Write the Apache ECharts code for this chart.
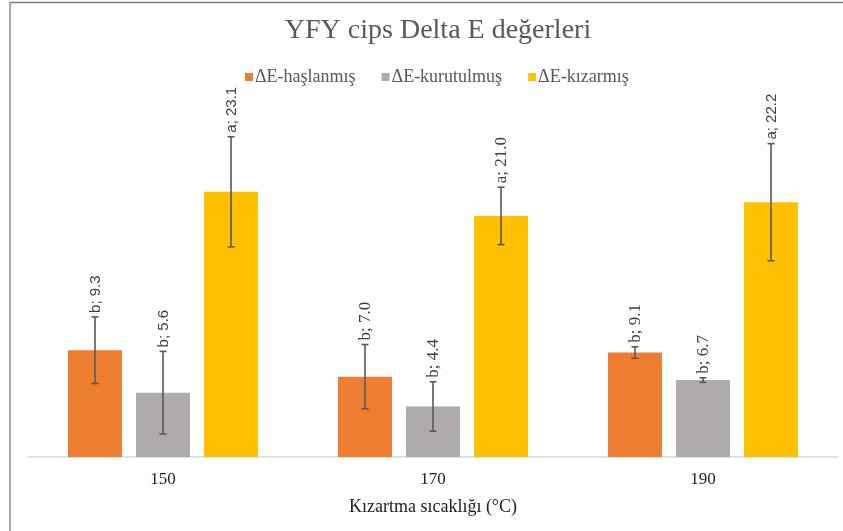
<!DOCTYPE html>
<html>
<head>
<meta charset="utf-8">
<script src="https://cdn.jsdelivr.net/npm/echarts@6/dist/echarts.min.js"></script>
<style>html,body{margin:0;padding:0;background:#fff;}#c{width:843px;height:531px;}</style>
</head>
<body>
<div id="c"></div>
<script>
const categories = ['150', '170', '190'];
const seriesNames = ['ΔE-haşlanmış', 'ΔE-kurutulmuş', 'ΔE-kızarmış'];
const haslanmis = [9.3, 7.0, 9.1];
const haslanmisErr = [2.9, 2.8, 0.5];
const haslanmisLetters = ['b', 'b', 'b'];
const kurutulmus = [5.6, 4.4, 6.7];
const kurutulmusErr = [3.6, 2.15, 0.2];
const kurutulmusLetters = ['b', 'b', 'b'];
const kizarmis = [23.1, 21.0, 22.2];
const kizarmisErr = [4.8, 2.5, 5.1];
const kizarmisLetters = ['a', 'a', 'a'];
const chartTitle = 'YFY cips Delta E değerleri';
const xAxisTitle = 'Kızartma sıcaklığı (°C)';

const values = [haslanmis, kurutulmus, kizarmis];
const errs = [haslanmisErr, kurutulmusErr, kizarmisErr];
const letters = [haslanmisLetters, kurutulmusLetters, kizarmisLetters];
const colors = ['#ED7D31', '#AFABAB', '#FFC000'];
// label font style per [series][category] (styling only)
const sansLabel = [[true, false, false], [true, false, false], [true, false, true]];

const SERIF = '"Liberation Serif", "Times New Roman", serif';
const SANS = '"Liberation Sans", Arial, sans-serif';

const chart = echarts.init(document.getElementById('c'), null, {renderer: 'canvas'});

const barSeries = seriesNames.map((n, i) => ({
  name: n,
  type: 'bar',
  data: values[i],
  barWidth: 54,
  barGap: '26%',
  itemStyle: {color: colors[i]},
  z: 2
}));

const errSeries = seriesNames.map((n, i) => ({
  type: 'custom',
  z: 5,
  silent: true,
  data: values[i].map((v, k) => [k, v, errs[i][k]]),
  encode: {x: 0, y: 1},
  renderItem: function (params, api) {
    const cat = api.value(0), val = api.value(1), err = api.value(2);
    const band = api.size([1, 0])[0];
    const cx = api.coord([cat, 0])[0] + (i - 1) * band * 0.2519;
    const yTop = api.coord([cat, val + err])[1];
    const yBot = api.coord([cat, val - err])[1];
    const cap = 3.5;
    const ls = {stroke: '#595959', lineWidth: 1.6};
    const sans = sansLabel[i][params.dataIndex];
    return {
      type: 'group',
      children: [
        {type: 'line', shape: {x1: cx, y1: yTop, x2: cx, y2: yBot}, style: ls},
        {type: 'line', shape: {x1: cx - cap, y1: yTop, x2: cx + cap, y2: yTop}, style: ls},
        {type: 'line', shape: {x1: cx - cap, y1: yBot, x2: cx + cap, y2: yBot}, style: ls},
        {
          type: 'text',
          x: cx + 1,
          y: yTop - 4,
          rotation: Math.PI / 2,
          style: {
            text: letters[i][params.dataIndex] + '; ' + val.toFixed(1),
            fill: '#404040',
            font: sans ? ('15px ' + SANS) : ('17px ' + SERIF),
            textAlign: 'left',
            textVerticalAlign: 'middle'
          }
        }
      ]
    };
  }
}));

chart.setOption({
  animation: false,
  backgroundColor: '#fff',
  title: {
    text: chartTitle,
    left: 433,
    textAlign: 'center',
    top: 12,
    textStyle: {fontFamily: SERIF, fontSize: 28, fontWeight: 'normal', color: '#595959'}
  },
  legend: {
    data: seriesNames,
    left: 240,
    top: 63,
    icon: 'rect',
    itemWidth: 8,
    itemHeight: 8,
    itemGap: 26,
    textStyle: {fontFamily: SERIF, fontSize: 18, color: '#595959', padding: [0, 0, 0, -3]}
  },
  grid: {left: 28, right: 5, top: 112.6, bottom: 74, containLabel: false},
  xAxis: {
    type: 'category',
    data: categories,
    axisLine: {lineStyle: {color: '#D9D9D9', width: 1.5}},
    axisTick: {show: false},
    axisLabel: {fontFamily: SERIF, fontSize: 17, color: '#222', margin: 14},
    name: xAxisTitle,
    nameLocation: 'middle',
    nameGap: 41,
    nameTextStyle: {fontFamily: SERIF, fontSize: 18, color: '#222'}
  },
  yAxis: {type: 'value', min: 0, max: 30, show: false, splitLine: {show: false}},
  graphic: [{
    type: 'rect',
    shape: {x: 10, y: 2.5, width: 900, height: 600},
    style: {fill: 'none', stroke: '#7F7F7F', lineWidth: 1.3},
    z: 100,
    silent: true
  }],
  series: barSeries.concat(errSeries)
});
</script>
</body>
</html>
